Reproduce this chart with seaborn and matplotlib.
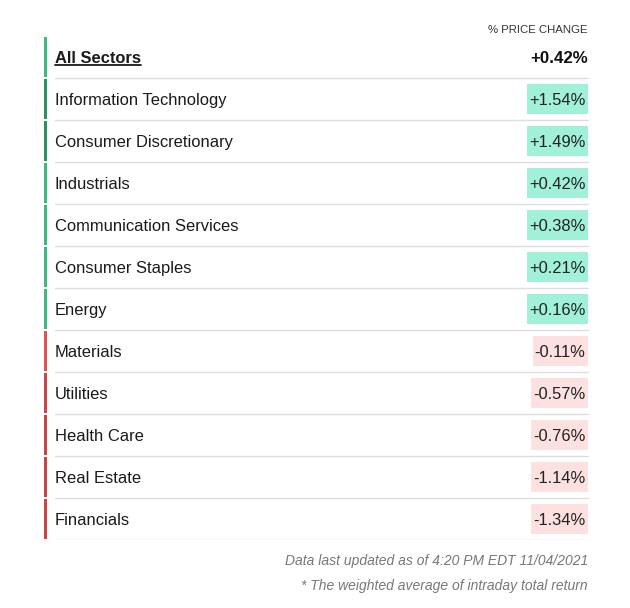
import matplotlib
matplotlib.use("Agg")
import matplotlib.pyplot as plt
import seaborn as sns
import numpy as np

# sector names and % price change, top row is the market total
sectors = ["All Sectors", "Information Technology", "Consumer Discretionary",
           "Industrials", "Communication Services", "Consumer Staples", "Energy",
           "Materials", "Utilities", "Health Care", "Real Estate", "Financials"]
changes = [0.42, 1.54, 1.49, 0.42, 0.38, 0.21, 0.16,
           -0.11, -0.57, -0.76, -1.14, -1.34]

header = "% PRICE CHANGE"
note_updated = "Data last updated as of 4:20 PM EDT 11/04/2021"
note_avg = "* The weighted average of intraday total return"

sns.set_theme(style="white")
plt.rcParams["font.family"] = ["Liberation Sans", "DejaVu Sans"]


def accent_color(v):
    if v >= 1.0:
        return "#2e9065"
    if v >= 0:
        return "#3dba7e"
    if v > -0.3:
        return "#e0534f"
    return "#c84646"


def fmt(v):
    return f"{v:+.2f}%"


fig = plt.figure(figsize=(6.3, 6.08), dpi=100)
fig.patch.set_facecolor("white")
W, H = 630, 608
top_px, bottom_px = 36, 540
ax = fig.add_axes([0, (H - bottom_px) / H, 1, (bottom_px - top_px) / H])
n = len(sectors)
ax.set_xlim(0, W)
ax.set_ylim(n - 0.5, -0.5)
ax.axis("off")

rows = np.arange(n)
x_text, x_right = 55, 588
fs = 11.9
dy = 0.045  # nudge so glyphs sit visually centred in the row

# left accent bars
ax.barh(rows, 3.5, left=43.5, height=0.93, linewidth=0,
        color=[accent_color(v) for v in changes])

# row separators
for r in rows:
    ax.plot([x_text, x_right], [r + 0.5, r + 0.5], color="#dddddd", lw=1)

fig.canvas.draw()
renderer = fig.canvas.get_renderer()
inv = ax.transData.inverted()

for r, (name, v) in enumerate(zip(sectors, changes)):
    is_total = r == 0
    weight = "bold" if is_total else "normal"
    t = ax.text(x_text, r + dy, name, ha="left", va="center", fontsize=fs,
                color="#1a1a1a", fontweight=weight)
    if is_total:
        bb = t.get_window_extent(renderer)
        x0, _ = inv.transform((bb.x0, bb.y0))
        x1, _ = inv.transform((bb.x1, bb.y0))
        ax.plot([x0, x1], [r + 0.18, r + 0.18], color="#1a1a1a", lw=1.3)
        ax.text(x_right, r + dy, fmt(v), ha="right", va="center",
                fontsize=12.2, color="#111111", fontweight="bold")
        continue
    vt = ax.text(x_right - 2.5, r + dy, fmt(v), ha="right", va="center",
                 fontsize=fs, color="#222222", zorder=3)
    bb = vt.get_window_extent(renderer)
    bx0, _ = inv.transform((bb.x0, bb.y0))
    box = "#a0f0da" if v >= 0 else "#fde0e0"
    ax.barh(r, x_right - (bx0 - 2), left=bx0 - 2, height=0.7, color=box,
            linewidth=0, zorder=2)

fig.text(x_right / W, 1 - 30 / H, header, ha="right", va="center",
         fontsize=8.2, color="#333333")
fig.text(x_right / W, 1 - 561 / H, note_updated, ha="right", va="center",
         fontsize=10, color="#777777", style="italic")
fig.text(x_right / W, 1 - 586 / H, note_avg, ha="right", va="center",
         fontsize=10, color="#777777", style="italic")

fig.savefig("out.png", dpi=100, facecolor="white")
